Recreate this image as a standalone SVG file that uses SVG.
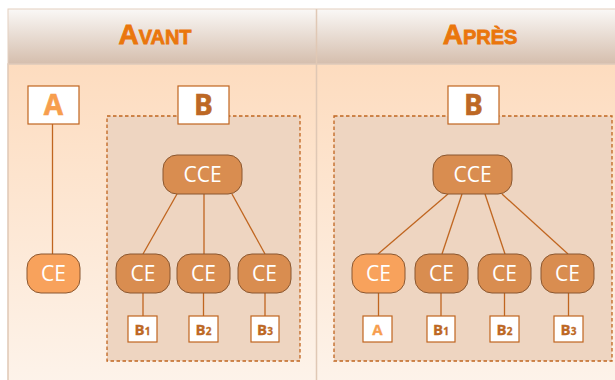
<svg xmlns="http://www.w3.org/2000/svg" width="615" height="380" viewBox="0 0 615 380">
<defs>
<linearGradient id="hdr" x1="0" y1="0" x2="0" y2="1">
<stop offset="0" stop-color="#faf8f6"/>
<stop offset="1" stop-color="#d5bead"/>
</linearGradient>
<linearGradient id="body" x1="0" y1="0" x2="0" y2="1">
<stop offset="0" stop-color="#fddcbf"/>
<stop offset="1" stop-color="#fdf3ea"/>
</linearGradient>
</defs>
<style>
.title{font-family:"Liberation Sans",Arial,sans-serif;font-weight:bold;fill:#ea760c;stroke:#ea760c;stroke-width:0.8;text-anchor:middle}
.dash{fill:#eed5c1;stroke:#c0651f;stroke-width:1.3;stroke-dasharray:3.5,2.5}
.box{fill:#ffffff;stroke:#c0651f;stroke-width:1.2}
.bigA{font-family:"Open Sans","Liberation Sans",sans-serif;font-weight:bold;font-size:28px;fill:#f79e4e;stroke:#f79e4e;stroke-width:0.6;text-anchor:middle}
.bigB{font-family:"Open Sans","Liberation Sans",sans-serif;font-weight:bold;font-size:28px;fill:#bd6824;stroke:#bd6824;stroke-width:0.6;text-anchor:middle}
.smA{font-family:"Open Sans","Liberation Sans",sans-serif;font-weight:bold;font-size:15px;fill:#f79e4e;stroke:#f79e4e;stroke-width:0.3;text-anchor:middle}
.smB{font-family:"Open Sans","Liberation Sans",sans-serif;font-weight:bold;font-size:15px;fill:#bd6824;stroke:#bd6824;stroke-width:0.3;text-anchor:middle}
.ce{fill:#d98d50;stroke:#8a5730;stroke-width:1}
.ceL{fill:#f8a25c;stroke:#8a5730;stroke-width:1}
.cet{font-family:"Open Sans","Liberation Sans",sans-serif;font-size:21px;fill:#ffffff;text-anchor:middle}
.ln{stroke:#c0651f;stroke-width:1.3;fill:none}
</style>
<!-- background frame -->
<rect x="8" y="64" width="620" height="320" fill="url(#body)" stroke="#e0c8b5" stroke-width="1.5"/>
<rect x="8" y="9" width="620" height="55" fill="url(#hdr)" stroke="#e3cfc0" stroke-width="1"/>
<line x1="316.5" y1="9" x2="316.5" y2="380" stroke="#e0c8b5" stroke-width="1.5"/>
<text class="title" x="155" y="44"><tspan font-size="28">A</tspan><tspan font-size="20">VANT</tspan></text>
<text class="title" x="480" y="44"><tspan font-size="28">A</tspan><tspan font-size="20">PRÈS</tspan></text>

<rect class="dash" x="107" y="116" width="193" height="245"/>
<rect class="dash" x="334" y="116" width="278" height="245"/>

<g id="connectors">
<line class="ln" x1="52.5" y1="124" x2="52.5" y2="254"/>
<line class="ln" x1="177" y1="194" x2="143" y2="254"/>
<line class="ln" x1="204" y1="194" x2="204" y2="254"/>
<line class="ln" x1="232" y1="194" x2="265" y2="254"/>
<line class="ln" x1="143" y1="293" x2="143" y2="316"/>
<line class="ln" x1="203.5" y1="293" x2="203.5" y2="316"/>
<line class="ln" x1="265" y1="293" x2="265" y2="316"/>
<line class="ln" x1="448" y1="194" x2="378" y2="254"/>
<line class="ln" x1="462" y1="194" x2="442" y2="254"/>
<line class="ln" x1="485" y1="194" x2="505" y2="254"/>
<line class="ln" x1="502" y1="194" x2="568" y2="254"/>
<line class="ln" x1="378.5" y1="293" x2="378.5" y2="316"/>
<line class="ln" x1="441" y1="293" x2="441" y2="316"/>
<line class="ln" x1="504.5" y1="293" x2="504.5" y2="316"/>
<line class="ln" x1="568.5" y1="293" x2="568.5" y2="316"/>
</g>

<g id="A-avant"><rect class="box" x="28" y="86" width="51" height="38"/><text class="bigA" x="53.5" y="115">A</text></g>
<g id="B-avant"><rect class="box" x="178" y="86" width="51" height="38"/><text class="bigB" x="203.5" y="115">B</text></g>
<g id="CE-A-avant"><rect class="ceL" x="27" y="254" width="53" height="39" rx="14"/><text class="cet" x="53.5" y="281">CE</text></g>
<g id="CCE-avant"><rect class="ce" x="163" y="155" width="79" height="39" rx="14"/><text class="cet" x="202.5" y="182">CCE</text></g>
<g id="CE1-avant"><rect class="ce" x="116" y="254" width="54" height="39" rx="14"/><text class="cet" x="143" y="281">CE</text></g>
<g id="CE2-avant"><rect class="ce" x="177" y="254" width="53" height="39" rx="14"/><text class="cet" x="203.5" y="281">CE</text></g>
<g id="CE3-avant"><rect class="ce" x="238" y="254" width="53" height="39" rx="14"/><text class="cet" x="264.5" y="281">CE</text></g>
<g id="B1-avant"><rect class="box" x="128" y="316" width="29" height="26"/><text class="smB" x="142.5" y="335">B<tspan font-size="10">1</tspan></text></g>
<g id="B2-avant"><rect class="box" x="189" y="316" width="29" height="26"/><text class="smB" x="203.5" y="335">B<tspan font-size="10">2</tspan></text></g>
<g id="B3-avant"><rect class="box" x="251" y="316" width="28" height="26"/><text class="smB" x="265" y="335">B<tspan font-size="10">3</tspan></text></g>

<g id="B-apres"><rect class="box" x="448" y="86" width="51" height="38"/><text class="bigB" x="473.5" y="115">B</text></g>
<g id="CCE-apres"><rect class="ce" x="433" y="155" width="79" height="39" rx="14"/><text class="cet" x="472.5" y="182">CCE</text></g>
<g id="CE-A-apres"><rect class="ceL" x="352" y="254" width="53" height="39" rx="14"/><text class="cet" x="378.5" y="281">CE</text></g>
<g id="CE1-apres"><rect class="ce" x="415" y="254" width="53" height="39" rx="14"/><text class="cet" x="441.5" y="281">CE</text></g>
<g id="CE2-apres"><rect class="ce" x="478" y="254" width="53" height="39" rx="14"/><text class="cet" x="504.5" y="281">CE</text></g>
<g id="CE3-apres"><rect class="ce" x="541" y="254" width="53" height="39" rx="14"/><text class="cet" x="567.5" y="281">CE</text></g>
<g id="A-apres"><rect class="box" x="363" y="316" width="29" height="26"/><text class="smA" x="377.5" y="335">A</text></g>
<g id="B1-apres"><rect class="box" x="427" y="316" width="28" height="26"/><text class="smB" x="441" y="335">B<tspan font-size="10">1</tspan></text></g>
<g id="B2-apres"><rect class="box" x="490" y="316" width="29" height="26"/><text class="smB" x="504.5" y="335">B<tspan font-size="10">2</tspan></text></g>
<g id="B3-apres"><rect class="box" x="554" y="316" width="29" height="26"/><text class="smB" x="568.5" y="335">B<tspan font-size="10">3</tspan></text></g>
</svg>
